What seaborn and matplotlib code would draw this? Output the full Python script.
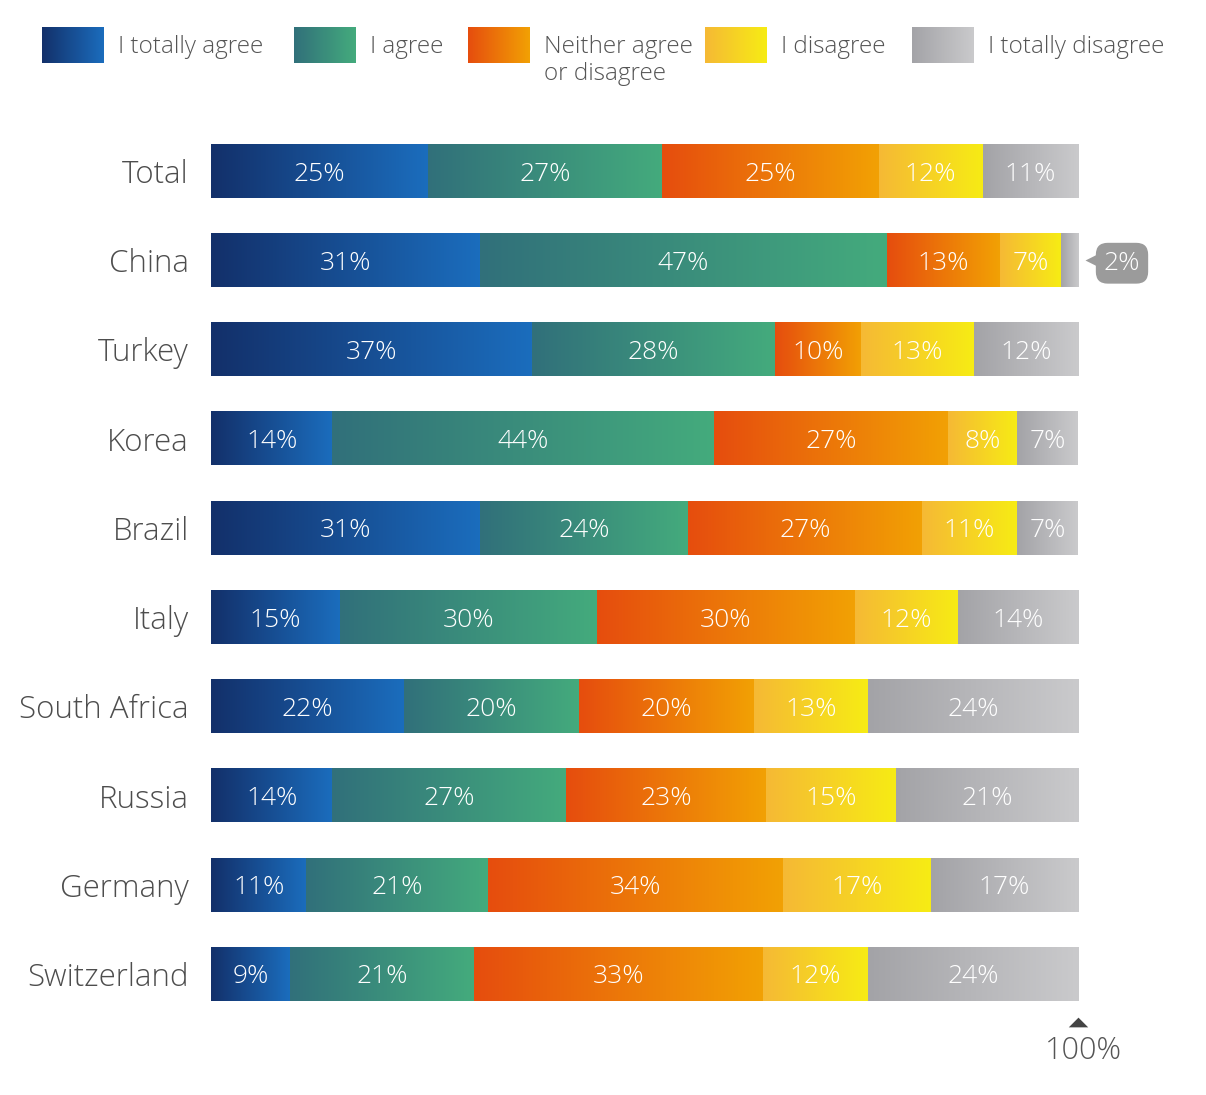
import numpy as np
import pandas as pd
import matplotlib
matplotlib.use("Agg")
import matplotlib.pyplot as plt
import seaborn as sns
from matplotlib.colors import LinearSegmentedColormap
from matplotlib.transforms import offset_copy

countries = ["Total", "China", "Turkey", "Korea", "Brazil", "Italy",
             "South Africa", "Russia", "Germany", "Switzerland"]
categories = ["I totally agree", "I agree", "Neither agree\nor disagree",
              "I disagree", "I totally disagree"]
totally_agree = [25, 31, 37, 14, 31, 15, 22, 14, 11, 9]
agree = [27, 47, 28, 44, 24, 30, 20, 27, 21, 21]
neither = [25, 13, 10, 27, 27, 30, 20, 23, 34, 33]
disagree = [12, 7, 13, 8, 11, 12, 13, 15, 17, 12]
totally_disagree = [11, 2, 12, 7, 7, 14, 24, 21, 17, 24]

grad_start = ["#13306a", "#31707a", "#e64d0e", "#f5b935", "#a3a3a7"]
grad_end = ["#1b6dbd", "#44ab7d", "#f2a104", "#f7ec14", "#cacacc"]

sns.set_theme(style="white")
plt.rcParams["font.family"] = ["Open Sans", "DejaVu Sans"]
FW = "light"

W, H = 1206, 1095
fig = plt.figure(figsize=(W / 100, H / 100), dpi=100)
ax = fig.add_axes([211 / W, 1 - 1018.6 / H, 867 / W, (1018.6 - 126.4) / H])

series = [totally_agree, agree, neither, disagree, totally_disagree]
vals = np.array(series, dtype=float)
shares = vals / vals.sum(axis=0) * 100

left = np.zeros(len(countries))
for i, sh in enumerate(shares):
    df = pd.DataFrame({"country": countries, "share": sh})
    sns.barplot(data=df, y="country", x="share", left=left, color=grad_start[i],
                width=0.6, ax=ax, orient="y", errorbar=None, linewidth=0,
                saturation=1)
    left = left + sh

n = len(countries)
patches = list(ax.patches)
grad = np.linspace(0, 1, 256).reshape(1, -1)
callout_color = "#9b9b9b"
for k, p in enumerate(patches):
    si = k // n
    ci = k % n
    x0, y0, w, h = p.get_x(), p.get_y(), p.get_width(), p.get_height()
    cmap = LinearSegmentedColormap.from_list(f"g{si}", [grad_start[si], grad_end[si]])
    ax.imshow(grad, extent=[x0, x0 + w, y0 + h, y0], aspect="auto", cmap=cmap,
              zorder=p.get_zorder() + 0.1, interpolation="bilinear")
    v = series[si][ci]
    yc = y0 + h / 2
    if v >= 4:
        ax.text(x0 + w / 2, yc, f"{v}%", color="white", ha="center",
                va="center_baseline", fontsize=19, fontweight=FW, zorder=5)
    else:
        ax.annotate(f"{v}%", xy=(x0 + w, yc), xytext=(44, 0), textcoords="offset pixels",
                    ha="center", va="center_baseline", color="white", fontsize=19,
                    fontweight=FW, annotation_clip=False, zorder=6,
                    bbox=dict(boxstyle="round,pad=0.3,rounding_size=0.45",
                              fc=callout_color, ec="none"))
        tr = offset_copy(ax.transData, fig=fig, x=13, y=0, units="dots")
        ax.plot([x0 + w], [yc], marker="<", ms=9, color=callout_color, mec="none",
                transform=tr, clip_on=False, zorder=6)

# 100% marker below last bar
last = patches[n - 1]
ybot = last.get_y() + last.get_height()
tr_tri = offset_copy(ax.transData, fig=fig, x=0, y=-21.5, units="dots")
ax.plot([100], [ybot], marker=[(-1, -0.5), (1, -0.5), (0, 0.5)], ms=14,
        color="#444444", mec="none", transform=tr_tri, clip_on=False)
ax.annotate("100%", xy=(100, ybot), xytext=(5, -46), textcoords="offset pixels",
            ha="center", va="center_baseline", fontsize=22, color="#555555",
            fontweight=FW, annotation_clip=False)

ax.set_xlim(0, 100)
ax.set_ylim(n - 0.5, -0.5)
ax.set_xlabel("")
ax.set_ylabel("")
ax.set_xticks([])
ax.tick_params(axis="y", length=0, pad=16, labelsize=22.5, labelcolor="#4d4d4d")
for lab in ax.get_yticklabels():
    lab.set_fontweight(FW)
for s in ax.spines.values():
    s.set_visible(False)

# Legend with gradient swatches
lax = fig.add_axes([0, 1 - 100 / H, 1, 100 / H])
lax.set_xlim(0, W)
lax.set_ylim(100, 0)
lax.axis("off")
sw_x = [42, 294, 468, 705, 912]
for i, cat in enumerate(categories):
    cmap = LinearSegmentedColormap.from_list(f"l{i}", [grad_start[i], grad_end[i]])
    lax.imshow(grad, extent=[sw_x[i], sw_x[i] + 62, 63, 27], aspect="auto",
               cmap=cmap, interpolation="bilinear")
    for j, line in enumerate(cat.split("\n")):
        lax.text(sw_x[i] + 76, 53 + 27 * j, line, ha="left", va="baseline",
                 fontsize=17.5, color="#555555", fontweight=FW)
lax.set_xlim(0, W)
lax.set_ylim(100, 0)

fig.savefig("out.png", dpi=100)
